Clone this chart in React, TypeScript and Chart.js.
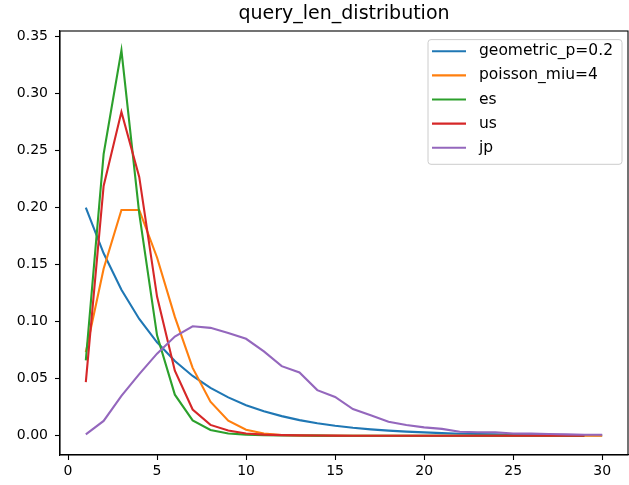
import React, { useEffect, useRef } from "react";
import { Chart, registerables } from "chart.js";

Chart.register(...registerables);

const TITLE = "query_len_distribution";
const xValues = [1, 2, 3, 4, 5, 6, 7, 8, 9, 10, 11, 12, 13, 14, 15, 16, 17, 18, 19, 20, 21, 22, 23, 24, 25, 26, 27, 28, 29, 30];
const xTicks = [0, 5, 10, 15, 20, 25, 30];
const yTicks = [0, 0.05, 0.1, 0.15, 0.2, 0.25, 0.3, 0.35];

const seriesLabels = ["geometric_p=0.2", "poisson_miu=4", "es", "us", "jp"];
const seriesColors = ["#1f77b4", "#ff7f0e", "#2ca02c", "#d62728", "#9467bd"];

const geometric = [0.2, 0.16, 0.128, 0.1024, 0.0819, 0.0655, 0.0524, 0.0419, 0.0336, 0.0268, 0.0215, 0.0172, 0.0137, 0.011, 0.0088, 0.007, 0.0056, 0.0045, 0.0036, 0.0029, 0.0023, 0.0018, 0.0015, 0.0012, 0.0009, 0.0008, 0.0006, 0.0005, 0.0004, 0.0003];
const poisson = [0.0733, 0.1465, 0.198, 0.198, 0.1563, 0.1042, 0.0595, 0.0298, 0.0132, 0.0053, 0.0019, 0.0006, 0.0002, 0.0001, 0, 0, 0, 0, 0, 0, 0, 0, 0, 0, 0, 0, 0, 0, 0, 0];
const es = [0.066, 0.247, 0.338, 0.195, 0.088, 0.036, 0.0135, 0.005, 0.002, 0.001, 0.0005, 0.0003, 0.0002, 0.0001, 0, 0, 0, 0, 0, 0, 0, 0, 0, 0, 0, 0, 0, 0, 0];
const us = [0.047, 0.219, 0.284, 0.227, 0.122, 0.057, 0.023, 0.0095, 0.0045, 0.002, 0.001, 0.0005, 0.0003, 0.0002, 0.0001, 0, 0, 0, 0, 0, 0, 0, 0, 0, 0, 0, 0, 0, 0];
const jp = [0.0012, 0.013, 0.035, 0.054, 0.072, 0.087, 0.096, 0.0946, 0.09, 0.085, 0.074, 0.061, 0.0555, 0.04, 0.034, 0.0234, 0.018, 0.0123, 0.0094, 0.0073, 0.006, 0.0035, 0.003, 0.003, 0.002, 0.0018, 0.0015, 0.0012, 0.0008, 0.0008];

const seriesValues = [geometric, poisson, es, us, jp];

const FONT = "'DejaVu Sans', sans-serif";

const framePlugin = {
  id: "frame",
  afterDraw(chart: any) {
    const { ctx, chartArea } = chart;
    const { left, right, top, bottom } = chartArea;
    ctx.save();
    // spines
    ctx.strokeStyle = "#000";
    ctx.lineWidth = 1.1;
    ctx.strokeRect(left, top, right - left, bottom - top);
    // title
    ctx.fillStyle = "#000";
    ctx.font = `19px ${FONT}`;
    ctx.textAlign = "center";
    ctx.textBaseline = "alphabetic";
    ctx.fillText(TITLE, (left + right) / 2, top - 12);
    // legend
    ctx.font = `15.5px ${FONT}`;
    let maxW = 0;
    seriesLabels.forEach((l) => {
      maxW = Math.max(maxW, ctx.measureText(l).width);
    });
    const boxW = 51 + maxW + 9;
    const boxH = 124.7;
    const bx = right - 6 - boxW;
    const by = top + 8.6;
    ctx.beginPath();
    const r = 3;
    ctx.moveTo(bx + r, by);
    ctx.lineTo(bx + boxW - r, by);
    ctx.arcTo(bx + boxW, by, bx + boxW, by + r, r);
    ctx.lineTo(bx + boxW, by + boxH - r);
    ctx.arcTo(bx + boxW, by + boxH, bx + boxW - r, by + boxH, r);
    ctx.lineTo(bx + r, by + boxH);
    ctx.arcTo(bx, by + boxH, bx, by + boxH - r, r);
    ctx.lineTo(bx, by + r);
    ctx.arcTo(bx, by, bx + r, by, r);
    ctx.closePath();
    ctx.fillStyle = "rgba(255,255,255,0.8)";
    ctx.fill();
    ctx.strokeStyle = "#cccccc";
    ctx.lineWidth = 1;
    ctx.stroke();
    ctx.textAlign = "left";
    ctx.textBaseline = "middle";
    seriesLabels.forEach((l, i) => {
      const cy = by + 11.7 + i * 24.1;
      ctx.strokeStyle = seriesColors[i];
      ctx.lineWidth = 2.1;
      ctx.beginPath();
      ctx.moveTo(bx + 4, cy);
      ctx.lineTo(bx + 38, cy);
      ctx.stroke();
      ctx.fillStyle = "#000";
      ctx.fillText(l, bx + 51, cy);
    });
    ctx.restore();
  },
};

export default function App() {
  const ref = useRef<HTMLCanvasElement | null>(null);
  useEffect(() => {
    document.body.style.margin = "0";
    const canvas = ref.current;
    if (!canvas) return;
    const datasets = seriesLabels.map((label, i) => ({
      label,
      data: seriesValues[i].map((v, j) => ({ x: xValues[j], y: v })),
      borderColor: seriesColors[i],
      backgroundColor: seriesColors[i],
      borderWidth: 2.1,
      pointRadius: 0,
      tension: 0,
      fill: false,
      order: seriesLabels.length - 1 - i,
    }));
    const chart = new Chart(canvas, {
      type: "line",
      data: { datasets },
      options: {
        responsive: false,
        animation: false,
        events: [],
        layout: { padding: { top: 31, right: 1, left: 0, bottom: 0 } },
        plugins: {
          legend: { display: false },
          title: { display: false },
          tooltip: { enabled: false },
        },
        scales: {
          x: {
            type: "linear",
            min: -0.45,
            max: 31.45,
            afterBuildTicks: (s: any) => {
              s.ticks = xTicks.map((v) => ({ value: v }));
            },
            afterFit: (s: any) => {
              s.height = 30;
            },
            border: { display: true, color: "#000", width: 1.1 },
            grid: { display: true, drawOnChartArea: false, drawTicks: true, tickLength: 5, color: "#000", tickWidth: 1.1 },
            ticks: {
              color: "#000",
              font: { family: FONT, size: 14 },
              padding: 3,
              maxRotation: 0,
              autoSkip: false,
              callback: (v: any) => String(v),
            },
          },
          y: {
            type: "linear",
            min: -0.0169,
            max: 0.3549,
            afterBuildTicks: (s: any) => {
              s.ticks = yTicks.map((v) => ({ value: v }));
            },
            afterFit: (s: any) => {
              s.width = 60;
            },
            border: { display: true, color: "#000", width: 1.1 },
            grid: { display: true, drawOnChartArea: false, drawTicks: true, tickLength: 5, color: "#000", tickWidth: 1.1 },
            ticks: {
              color: "#000",
              font: { family: FONT, size: 14 },
              padding: 7,
              autoSkip: false,
              callback: (v: any) => Number(v).toFixed(2),
            },
          },
        },
      },
      plugins: [framePlugin],
    });
    return () => chart.destroy();
  }, []);
  return (
    <div style={{ width: 629, height: 485, background: "#fff" }}>
      <canvas ref={ref} width={629} height={485} style={{ width: 629, height: 485, display: "block" }} />
    </div>
  );
}
